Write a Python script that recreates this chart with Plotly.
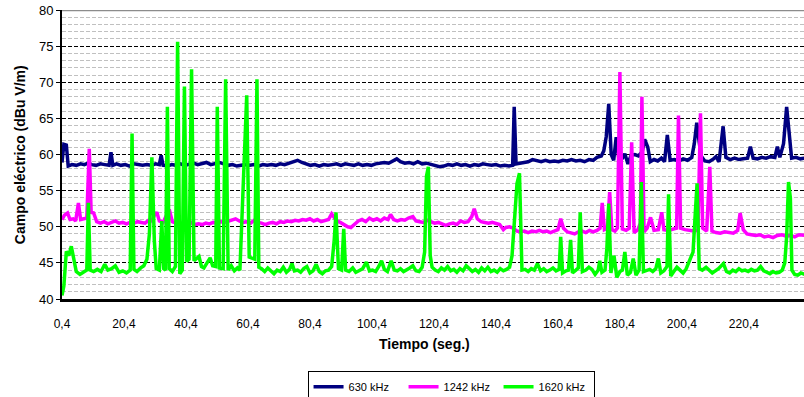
import plotly.graph_objects as go

# datos (tiempo en seg., campo en dBuV/m)
t_630 = [0.4, 1.0, 1.8, 2.4, 3.6, 5.0, 6.4, 7.6, 8.8, 10.0, 11.4, 12.8, 14.2, 15.6, 16.2, 16.8,
         18.0, 19.4, 20.8, 22.2, 23.6, 25.0, 26.4, 27.8, 29.2, 30.6, 31.8, 32.4, 33.0, 34.4,
         35.8, 37.2, 38.6, 40.0, 41.4, 42.8, 44.2, 45.6, 47.0, 48.4, 49.8, 51.2, 52.6, 54.0,
         55.4, 56.8, 58.2, 59.6, 61.0, 62.4, 63.8, 65.2, 66.6, 68.0, 69.4, 70.8, 72.2, 73.6,
         75.0, 76.4, 77.8, 79.2, 80.6, 82.0, 83.4, 84.8, 86.2, 87.6, 89.0, 90.4, 91.8, 93.2,
         94.6, 96.0, 97.4, 98.8, 100.2, 101.6, 103.0, 104.4, 105.8, 107.2, 108.4, 109.6, 111.0,
         112.4, 113.8, 115.2, 116.6, 118.0, 119.4, 120.8, 122.2, 123.6, 125.0, 126.4, 127.8,
         129.2, 130.6, 132.0, 133.4, 134.8, 136.2, 137.6, 139.0, 140.4, 141.8, 143.2, 144.6,
         145.8, 146.3, 146.9, 148.0, 149.4, 150.8, 152.2, 153.6, 155.0, 156.4, 157.8, 159.2,
         160.6, 162.0, 163.4, 164.8, 166.2, 167.6, 169.0, 170.4, 171.8, 173.0, 174.4, 175.2,
         176.0, 176.8, 177.6, 178.4, 179.2, 180.0, 181.2, 182.0, 183.0, 184.0, 185.2, 186.4,
         187.6, 188.4, 189.4, 190.2, 191.4, 192.6, 193.8, 194.8, 195.7, 196.6, 198.0, 199.4,
         200.8, 202.2, 203.6, 204.4, 205.2, 205.9, 206.6, 207.8, 209.2, 210.6, 211.4, 212.4,
         213.7, 214.6, 216.0, 217.4, 218.8, 220.2, 221.6, 222.5, 223.4, 224.8, 226.2, 227.6,
         229.0, 230.4, 231.2, 232.0, 233.2, 234.2, 235.0, 235.8, 237.2, 238.6, 240.0]
v_630 = [58.9, 61.4, 61.3, 58.4, 58.6, 58.5, 58.7, 58.6, 58.8, 58.6, 58.5, 58.7, 58.6, 58.5, 60.3, 58.5,
         58.7, 58.5, 58.6, 58.4, 58.7, 58.6, 58.5, 58.6, 58.5, 58.7, 58.6, 59.9, 58.5, 58.4,
         58.6, 58.5, 58.7, 58.5, 58.6, 58.8, 58.6, 58.7, 58.9, 58.6, 58.7, 58.9, 58.7, 58.5,
         58.6, 58.4, 58.5, 58.6, 58.5, 58.6, 58.4, 58.6, 58.5, 58.6, 58.5, 58.7, 58.6, 58.8,
         59.0, 59.2, 58.9, 58.7, 58.5, 58.6, 58.4, 58.6, 58.5, 58.6, 58.7, 58.5, 58.7, 58.6,
         58.5, 58.7, 58.5, 58.6, 58.5, 58.7, 58.8, 58.9, 58.8, 59.1, 59.4, 59.0, 58.8,
         58.9, 58.7, 59.0, 58.7, 58.8, 58.6, 58.5, 58.3, 58.4, 58.6, 58.5, 58.7,
         58.5, 58.6, 58.4, 58.6, 58.5, 58.7, 58.6, 58.5, 58.6, 58.4, 58.5, 58.4,
         58.5, 66.6, 58.7, 58.8, 58.9, 59.0, 59.3, 59.1, 59.0, 59.2, 59.0, 59.1,
         59.0, 59.2, 59.1, 59.3, 59.1, 59.2, 59.0, 59.3, 59.2, 59.6, 59.8, 60.5,
         62.5, 67.0, 60.0, 59.2, 62.4, 59.6, 59.5, 60.1, 58.7, 59.9, 60.0, 59.8,
         60.4, 62.1, 61.0, 59.0, 59.3, 59.1, 59.5, 59.0, 62.7, 59.2, 59.3, 59.1,
         59.4, 59.2, 59.6, 61.5, 64.4, 62.0, 59.8, 59.1, 59.0, 59.4, 59.7, 59.0,
         63.9, 59.6, 59.3, 59.5, 59.3, 59.4, 59.5, 61.1, 59.5, 59.4, 59.6, 59.5,
         59.7, 59.6, 61.1, 59.6, 61.5, 66.6, 63.0, 59.5, 59.6, 59.4, 59.5]

t_1242 = [0.4, 1.2, 2.2, 3.0, 4.0, 4.8, 5.7, 6.4, 7.4, 8.4, 9.2, 9.8, 10.6, 11.6, 12.8, 14.0,
          15.2, 16.4, 17.6, 18.8, 20.0, 21.2, 22.4, 23.6, 24.8, 26.0, 27.2, 28.4, 29.4, 30.2,
          31.0, 31.8, 33.0, 35.0, 36.0, 37.2, 38.4, 39.6, 40.8, 42.0, 43.2, 44.4, 45.6, 46.8,
          48.0, 49.2, 50.4, 51.6, 52.8, 54.0, 55.2, 56.4, 57.6, 58.8, 60.0, 61.2, 62.4, 63.6,
          64.8, 66.0, 67.2, 68.4, 69.6, 70.8, 72.0, 73.2, 74.4, 75.6, 76.8, 78.0, 79.2, 80.4,
          81.6, 82.8, 84.0, 85.2, 86.4, 87.4, 88.2, 89.0, 90.2, 91.4, 92.6, 93.6, 94.8, 96.0,
          97.2, 98.4, 99.6, 100.8, 102.0, 103.2, 104.4, 105.6, 106.4, 107.4, 108.6, 109.8,
          111.0, 112.2, 113.6, 114.6, 115.8, 117.0, 118.2, 119.4, 120.6, 121.8, 123.0, 124.2,
          125.4, 126.6, 127.8, 129.0, 130.2, 131.4, 132.6, 133.4, 134.4, 135.6, 136.8, 138.0,
          139.2, 140.4, 141.6, 142.8, 143.6, 144.8, 146.0, 147.2, 148.4, 149.6, 150.8, 152.0,
          153.2, 154.4, 155.6, 156.8, 158.0, 159.2, 160.4, 161.3, 162.2, 163.4, 164.6, 165.8,
          167.0, 168.2, 169.4, 170.6, 171.8, 173.0, 174.0, 174.7, 175.4, 176.4, 177.1, 177.8,
          178.8, 179.6, 180.4, 181.2, 182.4, 183.4, 184.2, 185.0, 186.2, 187.0, 187.5, 188.2,
          189.2, 190.3, 191.4, 192.8, 193.9, 194.6, 196.0, 197.4, 198.7, 199.3, 200.0, 201.4,
          202.8, 204.2, 205.6, 206.4, 207.1, 208.4, 209.4, 210.1, 211.4, 212.8, 214.2, 215.6,
          217.0, 218.4, 219.2, 220.2, 221.4, 222.8, 224.2, 225.6, 227.0, 228.4, 229.8, 231.2,
          232.6, 234.0, 235.4, 236.8, 238.2, 240.0]
v_1242 = [51.0, 51.6, 51.9, 51.0, 51.1, 50.8, 53.3, 51.0, 51.1, 51.2, 60.8, 52.0, 51.9, 50.7, 50.5, 50.7,
          50.4, 50.6, 50.8, 50.5, 50.6, 50.4, 50.6, 50.5, 50.7, 50.6, 50.5, 50.9, 50.8, 51.6,
          52.0, 50.8, 50.6, 52.4, 50.7, 50.5, 50.6, 50.4, 50.5, 50.6, 50.3, 50.4, 50.3, 50.5,
          50.4, 50.6, 50.5, 50.7, 50.6, 50.8, 51.0, 51.1, 50.8, 50.6, 50.7, 50.5, 50.9, 50.6,
          50.5, 50.3, 50.5, 50.6, 50.4, 50.7, 50.6, 50.8, 50.7, 50.9, 50.8, 51.0, 50.9, 51.1,
          50.8, 51.0, 50.7, 50.9, 51.0, 51.8, 51.3, 50.8, 50.6, 50.3, 50.0, 49.9, 50.3, 50.8,
          51.0, 50.7, 51.2, 50.9, 51.1, 50.8, 51.2, 51.0, 51.7, 51.0, 50.8, 51.0,
          50.9, 51.2, 51.4, 50.8, 50.7, 50.6, 50.9, 50.7, 50.5, 50.6, 50.4, 50.2,
          50.4, 50.5, 50.3, 50.8, 50.6, 50.7, 51.4, 52.5, 51.1, 50.7, 50.6, 50.5,
          50.6, 50.4, 50.3, 49.6, 49.9, 50.0, 49.8, 49.4, 49.3, 49.4, 49.2, 49.4,
          49.3, 49.5, 49.3, 49.4, 49.2, 49.4, 49.6, 51.1, 49.8, 49.3, 49.1, 49.0,
          49.3, 49.4, 49.2, 49.5, 49.3, 49.5, 49.8, 53.3, 49.6, 49.8, 54.8, 49.6,
          49.4, 49.8, 71.4, 49.7, 49.5, 49.8, 61.7, 49.2, 49.6, 50.5, 68.0, 49.3,
          49.8, 51.3, 49.5, 49.6, 52.0, 49.6, 49.5, 49.7, 49.8, 65.4, 49.8, 49.6,
          49.5, 49.4, 49.5, 65.7, 49.8, 49.4, 58.3, 49.4, 49.2, 49.1, 49.3, 49.2,
          49.1, 49.5, 51.9, 49.6, 49.0, 48.9, 48.8, 48.9, 48.6, 48.7, 48.5, 48.8,
          48.9, 48.7, 48.8, 48.6, 48.9, 48.8]

t_1620 = [0.4, 1.0, 1.8, 2.6, 3.4, 4.2, 5.0, 6.2, 7.4, 8.4, 8.9, 9.5, 10.6, 11.8, 13.0, 14.2,
          15.2, 16.4, 17.6, 18.8, 20.0, 21.2, 22.4, 23.0, 23.6, 24.6, 25.8, 26.8, 27.8, 28.6,
          29.4, 30.2, 30.8, 31.8, 32.6, 33.2, 33.8, 34.4, 35.0, 36.0, 37.0, 37.7, 38.4, 39.2,
          39.9, 40.6, 41.4, 42.2, 43.0, 43.8, 44.6, 45.4, 46.2, 47.2, 48.2, 49.0, 50.0, 50.5,
          51.2, 52.4, 53.2, 54.0, 55.0, 56.0, 57.0, 57.8, 58.4, 59.0, 60.0, 60.8, 61.8, 62.6,
          63.3, 63.9, 64.8, 65.8, 66.8, 67.8, 68.8, 69.8, 70.8, 71.8, 72.8, 73.8, 74.6, 75.4,
          76.4, 77.4, 78.4, 79.4, 80.4, 81.4, 82.4, 83.4, 84.4, 85.4, 86.4, 87.4, 88.2, 88.8,
          89.6, 90.6, 91.3, 91.9, 93.0, 94.2, 95.2, 96.2, 97.4, 98.6, 99.6, 100.6, 101.6, 102.6,
          103.5, 104.4, 105.4, 106.6, 107.6, 108.6, 109.6, 110.6, 111.6, 112.6, 113.6, 114.6,
          115.6, 116.6, 117.4, 118.0, 118.6, 119.2, 119.8, 120.8, 121.8, 122.8, 123.8, 124.8,
          125.8, 126.8, 127.8, 128.8, 129.8, 130.8, 131.8, 132.8, 133.8, 134.8, 135.8, 136.8,
          137.8, 138.8, 139.8, 140.8, 141.8, 142.8, 143.8, 144.8, 145.6, 146.4, 147.2, 148.0,
          148.8, 149.8, 150.8, 151.8, 152.8, 153.8, 154.8, 155.8, 156.8, 157.8, 158.8, 159.8,
          160.8, 161.3, 161.9, 163.0, 163.8, 164.5, 165.1, 166.2, 167.0, 167.6, 168.3, 169.4,
          170.4, 171.4, 172.4, 173.4, 173.9, 174.6, 175.6, 176.2, 176.8, 177.5, 178.5, 179.4,
          180.4, 181.2, 182.0, 182.8, 183.8, 184.7, 185.6, 186.6, 187.3, 188.0, 189.0, 190.0,
          191.0, 192.0, 192.8, 193.6, 194.6, 195.6, 196.1, 196.8, 197.8, 198.8, 199.8, 200.8,
          201.8, 203.0, 204.0, 204.6, 205.3, 206.0, 207.0, 208.2, 209.2, 210.2, 211.2, 212.2,
          213.8, 214.8, 215.8, 216.8, 217.8, 218.8, 219.8, 220.8, 221.8, 222.8, 223.8, 224.8,
          225.8, 226.8, 227.8, 228.8, 229.8, 230.8, 231.8, 232.8, 233.6, 234.2, 234.8, 235.4,
          235.9, 236.8, 237.8, 238.8, 240.0]
v_1620 = [40.5, 41.8, 46.6, 46.0, 47.3, 45.5, 43.8, 43.4, 43.7, 44.0, 53.3, 44.0, 43.8, 44.1, 43.8, 44.8,
          44.0, 44.2, 44.6, 43.7, 43.9, 43.6, 44.0, 62.9, 44.1, 43.8, 44.3, 44.6, 45.5, 49.0,
          59.6, 48.0, 44.2, 44.0, 50.8, 44.2, 44.0, 66.6, 44.2, 43.8, 44.5, 75.6, 43.5, 44.0,
          69.4, 45.2, 45.5, 71.8, 45.3, 45.6, 45.9, 44.5, 44.3, 45.0, 45.7, 44.6, 44.5, 66.6,
          44.3, 44.2, 70.4, 44.0, 44.6, 43.9, 44.3, 44.0, 50.0, 58.7, 68.2, 45.8, 45.6, 45.5,
          70.4, 44.4, 44.2, 43.8, 44.3, 43.9, 43.5, 44.0, 43.8, 44.4, 43.7, 44.1, 44.9, 43.9,
          44.0, 43.7, 44.2, 44.5, 43.6, 43.9, 44.8, 43.8, 43.5, 43.9, 44.0, 44.5, 48.0, 52.0,
          44.2, 44.0, 49.7, 44.0, 43.8, 44.3, 43.7, 43.9, 44.2, 45.1, 43.9, 44.0, 43.8, 44.5,
          45.3, 44.1, 43.8, 45.3, 44.0, 43.9, 44.2, 43.8, 44.0, 44.3, 44.6, 43.9,
          43.8, 44.4, 46.5, 57.0, 58.3, 46.0, 44.4, 44.0, 43.8, 44.3, 44.0, 44.5,
          43.9, 44.1, 43.7, 44.2, 43.9, 44.6, 44.2, 43.8, 44.1, 43.7, 44.3, 43.9,
          44.4, 43.8, 44.0, 43.7, 44.2, 43.9, 44.1, 44.4, 46.0, 52.0, 56.0, 57.4,
          44.0, 44.1, 43.8, 44.2, 44.0, 44.9, 43.9, 44.2, 43.8, 44.0, 44.3, 43.9,
          44.1, 48.6, 43.6, 43.9, 44.0, 48.2, 43.6, 44.0, 44.3, 52.0, 43.8, 44.0,
          44.4, 44.1, 43.4, 44.0, 45.3, 43.7, 44.0, 47.0, 53.2, 43.6, 46.0, 43.0,
          43.8, 44.0, 46.5, 43.3, 43.7, 45.6, 43.3, 44.0, 56.2, 43.8, 44.0, 44.1,
          43.8, 44.2, 45.6, 43.6, 43.9, 44.5, 54.5, 43.2, 43.8, 44.4, 44.0, 43.6,
          44.2, 45.3, 46.5, 51.0, 56.0, 44.2, 44.0, 44.4, 44.0, 43.6, 43.9, 44.2,
          44.9, 43.8, 43.6, 44.0, 43.8, 44.2, 43.9, 44.0, 43.8, 44.1, 43.9, 44.0,
          44.5, 43.9, 43.7, 43.5, 43.8, 43.6, 43.7, 44.0, 45.0, 48.6, 56.2, 54.0,
          44.0, 43.4, 43.3, 43.6, 43.4]

x_ticks = [0.4, 20.4, 40.4, 60.4, 80.4, 100.4, 120.4, 140.4, 160.4, 180.4, 200.4, 220.4]
x_labels = ['0,4', '20,4', '40,4', '60,4', '80,4', '100,4', '120,4', '140,4',
            '160,4', '180,4', '200,4', '220,4']

fuente = 'Liberation Sans, Arial, sans-serif'

fig = go.Figure()
fig.add_trace(go.Scatter(x=t_630, y=v_630, mode='lines', name='630 kHz',
                         line=dict(color='#000080', width=3.5)))
fig.add_trace(go.Scatter(x=t_1242, y=v_1242, mode='lines', name='1242 kHz',
                         line=dict(color='#FF00FF', width=3.5)))
fig.add_trace(go.Scatter(x=t_1620, y=v_1620, mode='lines', name='1620 kHz',
                         line=dict(color='#00FF00', width=3.5)))

# linea gris superior (borde del area)
fig.add_shape(type='line', xref='paper', yref='y', x0=0, x1=1, y0=80, y1=80,
              line=dict(color='#8c8c8c', width=2.5))

# titulos de ejes
fig.add_annotation(text='<b>Tiempo (seg.)</b>', xref='paper', yref='paper',
                   x=0.489, y=-0.157, showarrow=False, yanchor='middle',
                   font=dict(family=fuente, size=14, color='black'))
fig.add_annotation(text='<b>Campo eléctrico (dBu V/m)</b>', xref='paper', yref='paper',
                   x=-0.057, y=0.5, showarrow=False, textangle=-90, xanchor='center',
                   font=dict(family=fuente, size=14, color='black'))

fig.update_layout(
    width=804, height=397,
    margin=dict(l=62, r=0, t=10, b=98),
    paper_bgcolor='white', plot_bgcolor='white',
    font=dict(family=fuente, size=12, color='black'),
    showlegend=True,
    # leyenda referida al contenedor para que no empuje el margen inferior
    legend=dict(orientation='h', xref='container', yref='container',
                x=0.561, xanchor='center', y=0.065, yanchor='top',
                bordercolor='black', borderwidth=1, font=dict(size=11),
                itemwidth=30, entrywidth=50, tracegroupgap=0),
    hovermode=False,
)
fig.update_xaxes(range=[0.4, 239.8], tickvals=x_ticks, ticktext=x_labels,
                 showgrid=False, zeroline=False,
                 showline=True, linecolor='black', linewidth=2.5,
                 ticks='outside', ticklen=12, tickcolor='rgba(0,0,0,0)',
                 tickfont=dict(size=12))
fig.update_yaxes(range=[40, 80], dtick=5, tick0=40,
                 showgrid=True, gridcolor='black', gridwidth=1, griddash='4px,2px',
                 minor=dict(dtick=1, showgrid=True, gridcolor='#c0c0c0', gridwidth=1,
                            griddash='4px,2px'),
                 zeroline=False, showline=True, linecolor='black', linewidth=2,
                 ticks='outside', ticklen=4, tickcolor='black',
                 tickfont=dict(size=13))

# sin margen del body para que la figura empiece en (0,0)
fig.write_html('out.html', config={'displayModeBar': False},
               post_script="document.body.style.margin='0';document.body.style.overflow='hidden';")
